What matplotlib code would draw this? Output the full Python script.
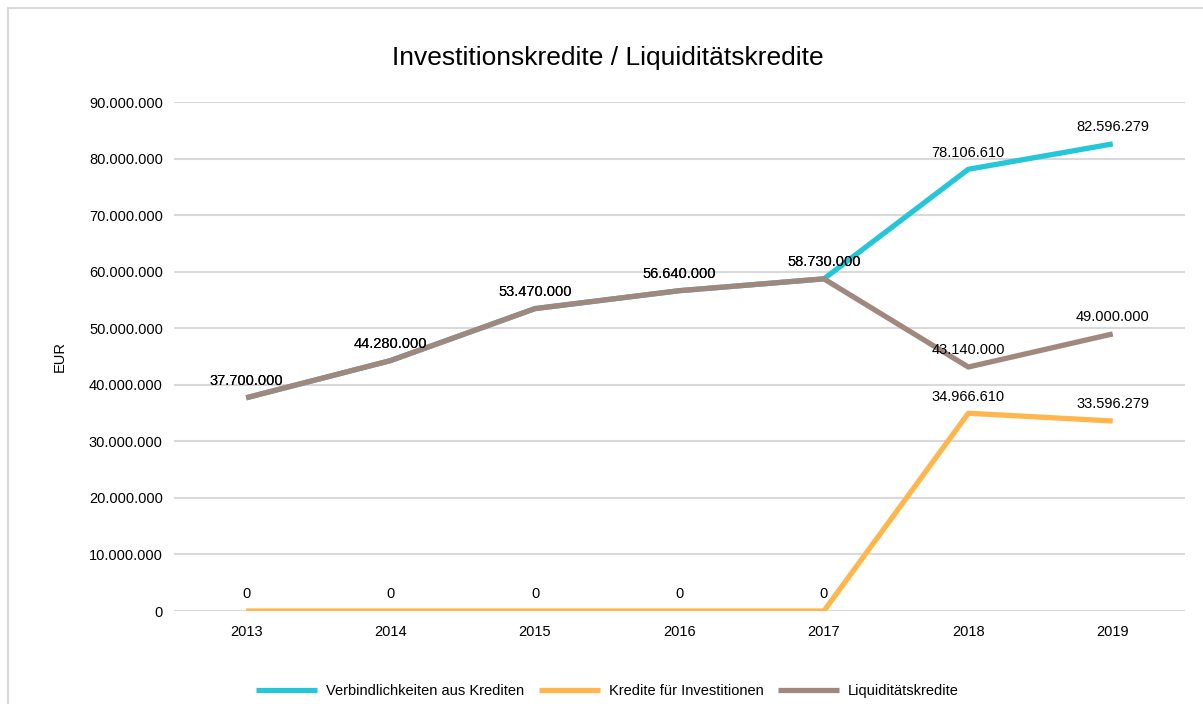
import matplotlib.pyplot as plt
from matplotlib.patches import Rectangle
from matplotlib.ticker import FuncFormatter

plt.rcParams['font.family'] = ['Liberation Sans', 'DejaVu Sans']

years = ['2013', '2014', '2015', '2016', '2017', '2018', '2019']
verbindlichkeiten = [37700000, 44280000, 53470000, 56640000, 58730000, 78106610, 82596279]
investitionen = [0, 0, 0, 0, 0, 34966610, 33596279]
liquiditaet = [37700000, 44280000, 53470000, 56640000, 58730000, 43140000, 49000000]

series = [
    ('Verbindlichkeiten aus Krediten', verbindlichkeiten, '#26C6DA'),
    ('Kredite für Investitionen', investitionen, '#FFB74D'),
    ('Liquiditätskredite', liquiditaet, '#A1887F'),
]


def de_fmt(v, pos=None):
    return f'{int(round(v)):,}'.replace(',', '.')


fig = plt.figure(figsize=(12.03, 7.04), dpi=100)
ax = fig.add_axes([0.1446, 0.1321, 0.8404, 0.7230])

# outer frame (left/top visible)
fig.patches.append(Rectangle((0.0067, -0.05), 1.1, 1.0386, transform=fig.transFigure,
                             fill=False, edgecolor='#d9d9d9', linewidth=1.5))

x = range(len(years))
for name, vals, col in series:
    ax.plot(x, vals, color=col, linewidth=3.8, label=name, solid_capstyle='butt', zorder=3)

for name, vals, col in series:
    for i, v in zip(x, vals):
        ax.annotate(de_fmt(v), (i, v), xytext=(0, 12), textcoords='offset points',
                    ha='center', va='center', fontsize=10.5, color='black', zorder=5)

ax.set_xlim(-0.5, len(years) - 0.5)
ax.set_ylim(0, 90000000)
ax.set_yticks(range(0, 90000001, 10000000))
ax.yaxis.set_major_formatter(FuncFormatter(de_fmt))
ax.set_xticks(list(x))
ax.set_xticklabels(years)
ax.tick_params(length=0, labelsize=10.5, colors='black')
ax.tick_params(axis='y', pad=8)
ax.tick_params(axis='x', pad=10)
ax.grid(axis='y', color='#d9d9d9', linewidth=1.5, zorder=0)
ax.set_axisbelow(True)
for s in ax.spines.values():
    s.set_visible(False)

ax.set_ylabel('EUR', fontsize=10.5, labelpad=16)
fig.text(0.505, 0.918, 'Investitionskredite / Liquiditätskredite', ha='center', va='center',
         fontsize=19)

fig.legend(loc='center', bbox_to_anchor=(0.505, 0.019), ncol=3, frameon=False,
           fontsize=10.5, handlelength=4.2, columnspacing=1.0, handletextpad=0.6)

fig.savefig('out.png', dpi=100)
